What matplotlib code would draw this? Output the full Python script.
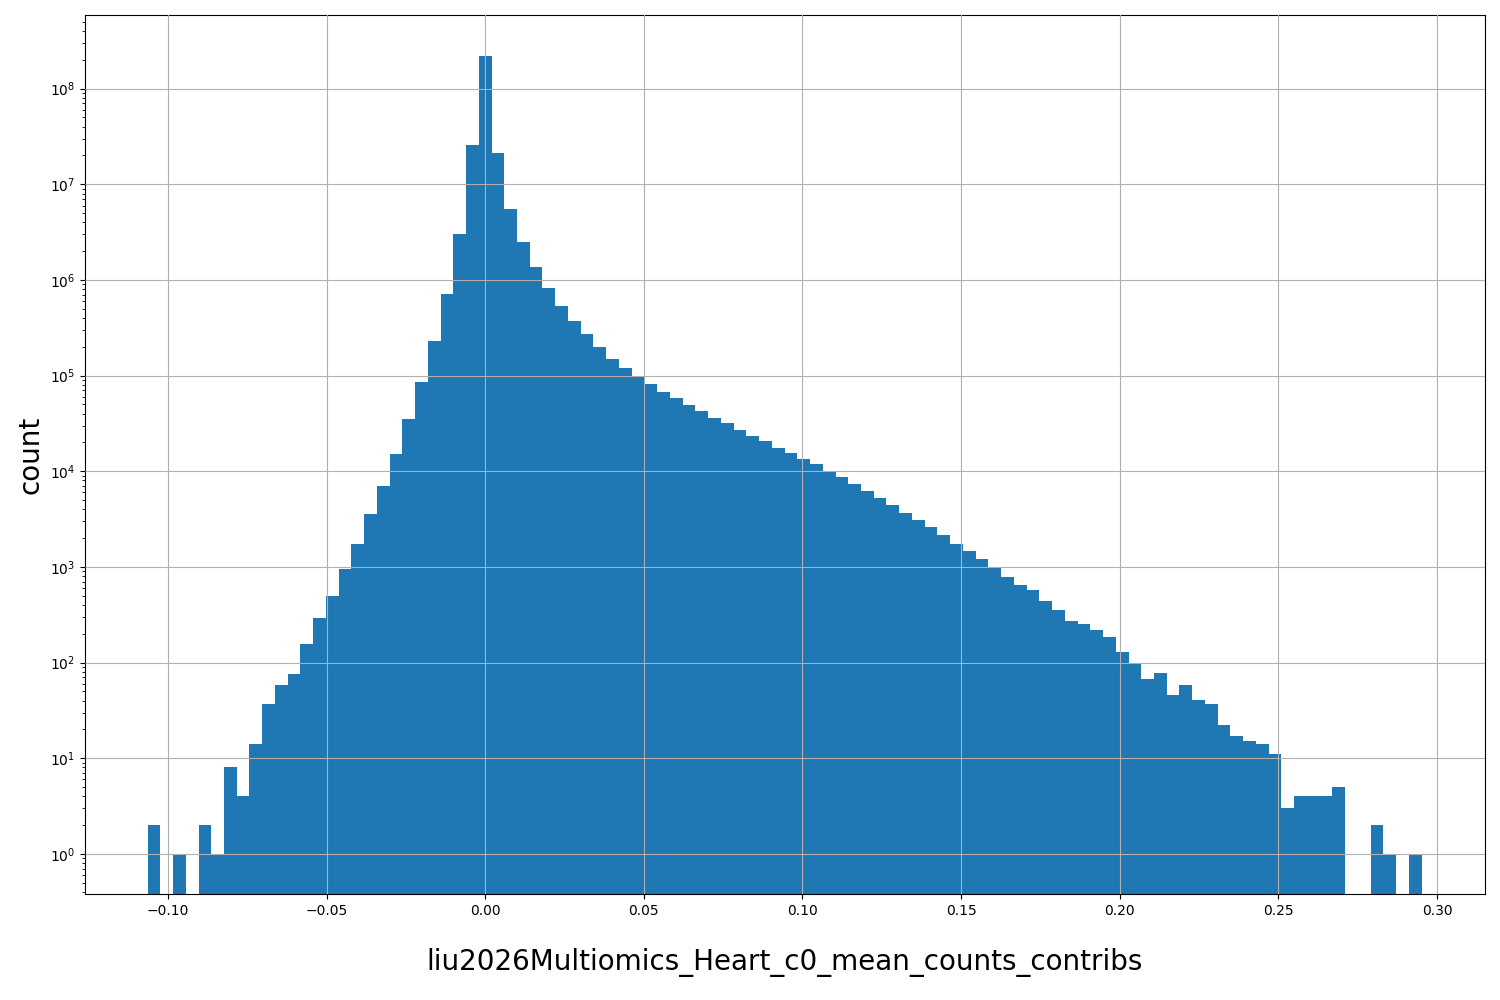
import numpy as np
import matplotlib
matplotlib.use("Agg")
import matplotlib.pyplot as plt

bin_start = -0.1064
bin_width = 0.004015
counts = [2,0,1,0,2,1,8,4,14,37,58,75,155,290,500,950,1750,3600,7000,15000,
          35000,85000,230000,720000,3.0e6,2.6e7,2.2e8,2.1e7,5.5e6,2.5e6,
          1.35e6,8.2e5,5.3e5,3.7e5,2.7e5,2.0e5,1.5e5,1.2e5,9.8e4,8.2e4,
          6.8e4,5.8e4,4.9e4,4.3e4,3.6e4,3.2e4,2.7e4,2.35e4,2.05e4,1.75e4,
          1.55e4,1.35e4,1.2e4,1.0e4,8600,7400,6200,5200,4400,3700,
          3100,2600,2150,1750,1450,1200,980,780,640,570,
          440,350,270,250,220,185,130,100,68,78,
          46,58,41,37,22,17,15,14,11,3,
          4,4,4,5,0,0,2,1,0,1]
edges = bin_start + bin_width*np.arange(len(counts)+1)

fig = plt.figure(figsize=(15,10), dpi=100)
ax = fig.add_axes([0.0567, 0.106, 0.9333, 0.879])
ax.hist(edges[:-1], bins=edges, weights=counts, color='#1f77b4')
ax.set_yscale('log')
ax.set_ylim(0.38, 10**8.77)
ax.set_xlim(-0.1261, 0.3151)
ax.grid(True)
ax.set_axisbelow(False)
ax.set_xlabel('liu2026Multiomics_Heart_c0_mean_counts_contribs', fontsize=20, labelpad=22)
ax.set_ylabel('count', fontsize=20)
fig.savefig('out.png')
